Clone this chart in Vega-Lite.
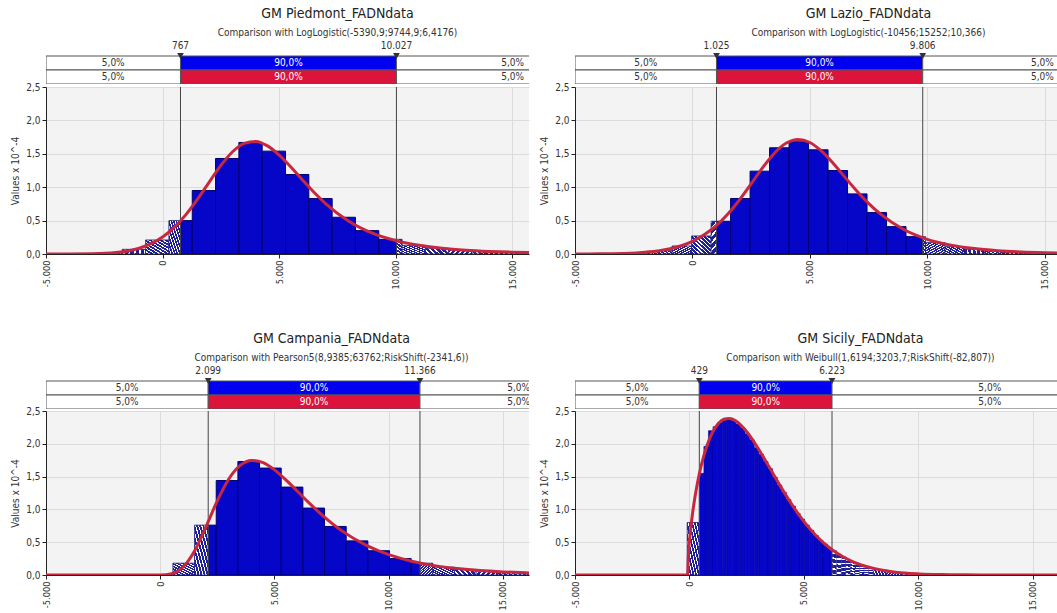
{
  "$schema": "https://vega.github.io/schema/vega-lite/v6.json",
  "padding": {"left": 10, "top": 7, "right": 0, "bottom": 0},
  "background": "white",
  "config": {
    "font": "DejaVu Sans Condensed, DejaVu Sans, sans-serif",
    "view": {"stroke": null},
    "title": {"fontSize": 14, "fontWeight": "normal", "color": "#222222", "subtitleFontSize": 10, "subtitleColor": "#333333", "subtitlePadding": 7, "anchor": "middle", "frame": "group", "offset": 3},
    "axis": {"labelFontSize": 10, "labelColor": "#333333", "titleFontSize": 10, "titleFontWeight": "normal", "titleColor": "#333333", "gridColor": "#dcdcdc", "domainColor": "#222222", "tickColor": "#222222", "tickSize": 4, "labelOverlap": false},
    "axisX": {"labelFontSize": 9.2},
    "axisY": {"minExtent": 24, "maxExtent": 24, "titlePadding": 2, "labelOverlap": false, "labelFlush": false, "labelBound": false}
  },
  "datasets": {
    "hist": [
      {"p":"P1","x0":-4729,"x1":-3729,"h":0.003,"z":"lo"},
      {"p":"P1","x0":-3729,"x1":-2729,"h":0.008,"z":"lo"},
      {"p":"P1","x0":-2729,"x1":-1729,"h":0.02,"z":"lo"},
      {"p":"P1","x0":-1729,"x1":-729,"h":0.07,"z":"lo"},
      {"p":"P1","x0":-729,"x1":271,"h":0.21,"z":"lo"},
      {"p":"P1","x0":271,"x1":767,"h":0.5,"z":"lo"},
      {"p":"P1","x0":767,"x1":1271,"h":0.5,"z":"mid"},
      {"p":"P1","x0":1271,"x1":2271,"h":0.95,"z":"mid"},
      {"p":"P1","x0":2271,"x1":3271,"h":1.43,"z":"mid"},
      {"p":"P1","x0":3271,"x1":4271,"h":1.67,"z":"mid"},
      {"p":"P1","x0":4271,"x1":5271,"h":1.54,"z":"mid"},
      {"p":"P1","x0":5271,"x1":6271,"h":1.19,"z":"mid"},
      {"p":"P1","x0":6271,"x1":7271,"h":0.83,"z":"mid"},
      {"p":"P1","x0":7271,"x1":8271,"h":0.55,"z":"mid"},
      {"p":"P1","x0":8271,"x1":9271,"h":0.35,"z":"mid"},
      {"p":"P1","x0":9271,"x1":10027,"h":0.22,"z":"mid"},
      {"p":"P1","x0":10027,"x1":10271,"h":0.22,"z":"hi"},
      {"p":"P1","x0":10271,"x1":11271,"h":0.13,"z":"hi"},
      {"p":"P1","x0":11271,"x1":12271,"h":0.085,"z":"hi"},
      {"p":"P1","x0":12271,"x1":13271,"h":0.055,"z":"hi"},
      {"p":"P1","x0":13271,"x1":14271,"h":0.038,"z":"hi"},
      {"p":"P1","x0":14271,"x1":15271,"h":0.026,"z":"hi"},
      {"p":"P1","x0":15271,"x1":16271,"h":0.018,"z":"hi"},

      {"p":"P2","x0":-4185,"x1":-3355,"h":0.003,"z":"lo"},
      {"p":"P2","x0":-3355,"x1":-2525,"h":0.008,"z":"lo"},
      {"p":"P2","x0":-2525,"x1":-1695,"h":0.02,"z":"lo"},
      {"p":"P2","x0":-1695,"x1":-865,"h":0.05,"z":"lo"},
      {"p":"P2","x0":-865,"x1":-35,"h":0.12,"z":"lo"},
      {"p":"P2","x0":-35,"x1":795,"h":0.27,"z":"lo"},
      {"p":"P2","x0":795,"x1":1025,"h":0.49,"z":"lo"},
      {"p":"P2","x0":1025,"x1":1625,"h":0.49,"z":"mid"},
      {"p":"P2","x0":1625,"x1":2455,"h":0.83,"z":"mid"},
      {"p":"P2","x0":2455,"x1":3285,"h":1.24,"z":"mid"},
      {"p":"P2","x0":3285,"x1":4115,"h":1.59,"z":"mid"},
      {"p":"P2","x0":4115,"x1":4945,"h":1.68,"z":"mid"},
      {"p":"P2","x0":4945,"x1":5775,"h":1.56,"z":"mid"},
      {"p":"P2","x0":5775,"x1":6605,"h":1.25,"z":"mid"},
      {"p":"P2","x0":6605,"x1":7435,"h":0.9,"z":"mid"},
      {"p":"P2","x0":7435,"x1":8265,"h":0.62,"z":"mid"},
      {"p":"P2","x0":8265,"x1":9095,"h":0.41,"z":"mid"},
      {"p":"P2","x0":9095,"x1":9806,"h":0.26,"z":"mid"},
      {"p":"P2","x0":9806,"x1":9925,"h":0.26,"z":"hi"},
      {"p":"P2","x0":9925,"x1":10755,"h":0.17,"z":"hi"},
      {"p":"P2","x0":10755,"x1":11585,"h":0.11,"z":"hi"},
      {"p":"P2","x0":11585,"x1":12415,"h":0.07,"z":"hi"},
      {"p":"P2","x0":12415,"x1":13245,"h":0.045,"z":"hi"},
      {"p":"P2","x0":13245,"x1":14075,"h":0.03,"z":"hi"},
      {"p":"P2","x0":14075,"x1":14905,"h":0.02,"z":"hi"},
      {"p":"P2","x0":14905,"x1":15735,"h":0.014,"z":"hi"},

      {"p":"P3","x0":554,"x1":1502,"h":0.18,"z":"lo"},
      {"p":"P3","x0":1502,"x1":2099,"h":0.76,"z":"lo"},
      {"p":"P3","x0":2099,"x1":2450,"h":0.76,"z":"mid"},
      {"p":"P3","x0":2450,"x1":3398,"h":1.44,"z":"mid"},
      {"p":"P3","x0":3398,"x1":4346,"h":1.73,"z":"mid"},
      {"p":"P3","x0":4346,"x1":5294,"h":1.63,"z":"mid"},
      {"p":"P3","x0":5294,"x1":6242,"h":1.34,"z":"mid"},
      {"p":"P3","x0":6242,"x1":7190,"h":1.02,"z":"mid"},
      {"p":"P3","x0":7190,"x1":8138,"h":0.74,"z":"mid"},
      {"p":"P3","x0":8138,"x1":9086,"h":0.52,"z":"mid"},
      {"p":"P3","x0":9086,"x1":10034,"h":0.37,"z":"mid"},
      {"p":"P3","x0":10034,"x1":10982,"h":0.25,"z":"mid"},
      {"p":"P3","x0":10982,"x1":11366,"h":0.18,"z":"mid"},
      {"p":"P3","x0":11366,"x1":11930,"h":0.18,"z":"hi"},
      {"p":"P3","x0":11930,"x1":12878,"h":0.12,"z":"hi"},
      {"p":"P3","x0":12878,"x1":13826,"h":0.085,"z":"hi"},
      {"p":"P3","x0":13826,"x1":14774,"h":0.06,"z":"hi"},
      {"p":"P3","x0":14774,"x1":15722,"h":0.042,"z":"hi"},
      {"p":"P3","x0":15722,"x1":16670,"h":0.03,"z":"hi"},

      {"p":"P4","x0":-100,"x1":429,"h":0.8,"z":"lo"},
      {"p":"P4","x0":429,"x1":629,"h":1.55,"z":"mid"},
      {"p":"P4","x0":629,"x1":829,"h":1.96,"z":"mid"},
      {"p":"P4","x0":829,"x1":1029,"h":2.2,"z":"mid"},
      {"p":"P4","x0":1029,"x1":1229,"h":2.26,"z":"mid"},
      {"p":"P4","x0":1229,"x1":1429,"h":2.32,"z":"mid"},
      {"p":"P4","x0":1429,"x1":1629,"h":2.36,"z":"mid"},
      {"p":"P4","x0":1629,"x1":1829,"h":2.37,"z":"mid"},
      {"p":"P4","x0":1829,"x1":2029,"h":2.35,"z":"mid"},
      {"p":"P4","x0":2029,"x1":2229,"h":2.3,"z":"mid"},
      {"p":"P4","x0":2229,"x1":2429,"h":2.24,"z":"mid"},
      {"p":"P4","x0":2429,"x1":2629,"h":2.15,"z":"mid"},
      {"p":"P4","x0":2629,"x1":2829,"h":2.06,"z":"mid"},
      {"p":"P4","x0":2829,"x1":3029,"h":1.94,"z":"mid"},
      {"p":"P4","x0":3029,"x1":3229,"h":1.84,"z":"mid"},
      {"p":"P4","x0":3229,"x1":3429,"h":1.73,"z":"mid"},
      {"p":"P4","x0":3429,"x1":3629,"h":1.62,"z":"mid"},
      {"p":"P4","x0":3629,"x1":3829,"h":1.49,"z":"mid"},
      {"p":"P4","x0":3829,"x1":4029,"h":1.37,"z":"mid"},
      {"p":"P4","x0":4029,"x1":4229,"h":1.26,"z":"mid"},
      {"p":"P4","x0":4229,"x1":4429,"h":1.15,"z":"mid"},
      {"p":"P4","x0":4429,"x1":4629,"h":1.05,"z":"mid"},
      {"p":"P4","x0":4629,"x1":4829,"h":0.94,"z":"mid"},
      {"p":"P4","x0":4829,"x1":5029,"h":0.85,"z":"mid"},
      {"p":"P4","x0":5029,"x1":5229,"h":0.76,"z":"mid"},
      {"p":"P4","x0":5229,"x1":5429,"h":0.68,"z":"mid"},
      {"p":"P4","x0":5429,"x1":5629,"h":0.6,"z":"mid"},
      {"p":"P4","x0":5629,"x1":5829,"h":0.53,"z":"mid"},
      {"p":"P4","x0":5829,"x1":6029,"h":0.47,"z":"mid"},
      {"p":"P4","x0":6029,"x1":6223,"h":0.41,"z":"mid"},
      {"p":"P4","x0":6223,"x1":6429,"h":0.37,"z":"hi"},
      {"p":"P4","x0":6429,"x1":6629,"h":0.32,"z":"hi"},
      {"p":"P4","x0":6629,"x1":6829,"h":0.28,"z":"hi"},
      {"p":"P4","x0":6829,"x1":7029,"h":0.24,"z":"hi"},
      {"p":"P4","x0":7029,"x1":7229,"h":0.205,"z":"hi"},
      {"p":"P4","x0":7229,"x1":7429,"h":0.175,"z":"hi"},
      {"p":"P4","x0":7429,"x1":7629,"h":0.15,"z":"hi"},
      {"p":"P4","x0":7629,"x1":7829,"h":0.128,"z":"hi"},
      {"p":"P4","x0":7829,"x1":8029,"h":0.108,"z":"hi"},
      {"p":"P4","x0":8029,"x1":8629,"h":0.08,"z":"hi"},
      {"p":"P4","x0":8629,"x1":9229,"h":0.05,"z":"hi"},
      {"p":"P4","x0":9229,"x1":10229,"h":0.025,"z":"hi"},
      {"p":"P4","x0":10229,"x1":11229,"h":0.01,"z":"hi"},
      {"p":"P4","x0":11229,"x1":12229,"h":0.004,"z":"hi"}
    ],
    "curve": [
      {"p":"P1","x":-5000,"y":0},{"p":"P1","x":-4000,"y":0.0002},{"p":"P1","x":-3000,"y":0.0033},{"p":"P1","x":-2000,"y":0.0216},{"p":"P1","x":-1000,"y":0.0866},{"p":"P1","x":-500,"y":0.154},{"p":"P1","x":0,"y":0.255},{"p":"P1","x":500,"y":0.399},{"p":"P1","x":1000,"y":0.589},{"p":"P1","x":1500,"y":0.82},{"p":"P1","x":2000,"y":1.077},{"p":"P1","x":2500,"y":1.326},{"p":"P1","x":3000,"y":1.531},{"p":"P1","x":3500,"y":1.657},{"p":"P1","x":4000,"y":1.685},{"p":"P1","x":4500,"y":1.618},{"p":"P1","x":5000,"y":1.48},{"p":"P1","x":5500,"y":1.301},{"p":"P1","x":6000,"y":1.107},{"p":"P1","x":6500,"y":0.92},{"p":"P1","x":7000,"y":0.752},{"p":"P1","x":8000,"y":0.488},{"p":"P1","x":9000,"y":0.312},{"p":"P1","x":10000,"y":0.2},{"p":"P1","x":11000,"y":0.13},{"p":"P1","x":12000,"y":0.0855},{"p":"P1","x":13000,"y":0.0573},{"p":"P1","x":14000,"y":0.0391},{"p":"P1","x":15000,"y":0.0271},{"p":"P1","x":16000,"y":0.0191},

      {"p":"P2","x":-5000,"y":0.0004},{"p":"P2","x":-4000,"y":0.0022},{"p":"P2","x":-3000,"y":0.0083},{"p":"P2","x":-2000,"y":0.027},{"p":"P2","x":-1000,"y":0.076},{"p":"P2","x":0,"y":0.19},{"p":"P2","x":500,"y":0.288},{"p":"P2","x":1000,"y":0.421},{"p":"P2","x":1500,"y":0.596},{"p":"P2","x":2000,"y":0.809},{"p":"P2","x":2500,"y":1.051},{"p":"P2","x":3000,"y":1.298},{"p":"P2","x":3500,"y":1.513},{"p":"P2","x":4000,"y":1.661},{"p":"P2","x":4500,"y":1.715},{"p":"P2","x":5000,"y":1.669},{"p":"P2","x":5500,"y":1.539},{"p":"P2","x":6000,"y":1.354},{"p":"P2","x":6500,"y":1.147},{"p":"P2","x":7000,"y":0.943},{"p":"P2","x":7500,"y":0.758},{"p":"P2","x":8000,"y":0.6},{"p":"P2","x":9000,"y":0.366},{"p":"P2","x":10000,"y":0.22},{"p":"P2","x":11000,"y":0.133},{"p":"P2","x":12000,"y":0.081},{"p":"P2","x":13000,"y":0.05},{"p":"P2","x":14000,"y":0.031},{"p":"P2","x":15000,"y":0.02},{"p":"P2","x":16000,"y":0.013},

      {"p":"P3","x":-5000,"y":0},{"p":"P3","x":-1000,"y":0},{"p":"P3","x":-500,"y":0},{"p":"P3","x":0,"y":0.0012},{"p":"P3","x":500,"y":0.021},{"p":"P3","x":1000,"y":0.122},{"p":"P3","x":1500,"y":0.367},{"p":"P3","x":2000,"y":0.735},{"p":"P3","x":2500,"y":1.133},{"p":"P3","x":3000,"y":1.464},{"p":"P3","x":3500,"y":1.671},{"p":"P3","x":4000,"y":1.747},{"p":"P3","x":4500,"y":1.713},{"p":"P3","x":5000,"y":1.603},{"p":"P3","x":5500,"y":1.449},{"p":"P3","x":6000,"y":1.277},{"p":"P3","x":6500,"y":1.103},{"p":"P3","x":7000,"y":0.939},{"p":"P3","x":7500,"y":0.791},{"p":"P3","x":8000,"y":0.661},{"p":"P3","x":9000,"y":0.455},{"p":"P3","x":10000,"y":0.31},{"p":"P3","x":11000,"y":0.21},{"p":"P3","x":12000,"y":0.143},{"p":"P3","x":13000,"y":0.098},{"p":"P3","x":14000,"y":0.067},{"p":"P3","x":15000,"y":0.047},{"p":"P3","x":16000,"y":0.033},{"p":"P3","x":17000,"y":0.023},

      {"p":"P4","x":-5000,"y":0},{"p":"P4","x":-83,"y":0},{"p":"P4","x":-50,"y":0.296},{"p":"P4","x":0,"y":0.524},{"p":"P4","x":100,"y":0.849},{"p":"P4","x":250,"y":1.212},{"p":"P4","x":350,"y":1.407},{"p":"P4","x":500,"y":1.651},{"p":"P4","x":750,"y":1.96},{"p":"P4","x":1000,"y":2.172},{"p":"P4","x":1250,"y":2.306},{"p":"P4","x":1500,"y":2.374},{"p":"P4","x":1750,"y":2.386},{"p":"P4","x":2000,"y":2.353},{"p":"P4","x":2250,"y":2.283},{"p":"P4","x":2500,"y":2.184},{"p":"P4","x":2750,"y":2.064},{"p":"P4","x":3000,"y":1.929},{"p":"P4","x":3500,"y":1.634},{"p":"P4","x":4000,"y":1.336},{"p":"P4","x":4500,"y":1.058},{"p":"P4","x":5000,"y":0.814},{"p":"P4","x":5500,"y":0.611},{"p":"P4","x":6000,"y":0.446},{"p":"P4","x":6500,"y":0.319},{"p":"P4","x":7000,"y":0.223},{"p":"P4","x":7500,"y":0.152},{"p":"P4","x":8000,"y":0.102},{"p":"P4","x":9000,"y":0.043},{"p":"P4","x":10000,"y":0.017},{"p":"P4","x":11000,"y":0.006},{"p":"P4","x":12000,"y":0.002},{"p":"P4","x":13000,"y":0.0007},{"p":"P4","x":14000,"y":0.0002},{"p":"P4","x":16500,"y":0}
    ],
    "strip": [
      {"p":"P1","row":"input","x0":-5000,"x1":767,"m":-2116.5,"k":"tail","t":"5,0%"},
      {"p":"P1","row":"input","x0":767,"x1":10027,"m":5397,"k":"input","t":"90,0%"},
      {"p":"P1","row":"input","x0":10027,"x1":20000,"m":15013.5,"k":"tail","t":"5,0%"},
      {"p":"P1","row":"fit","x0":-5000,"x1":767,"m":-2116.5,"k":"tail","t":"5,0%"},
      {"p":"P1","row":"fit","x0":767,"x1":10027,"m":5397,"k":"fit","t":"90,0%"},
      {"p":"P1","row":"fit","x0":10027,"x1":20000,"m":15013.5,"k":"tail","t":"5,0%"},
      {"p":"P2","row":"input","x0":-5000,"x1":1025,"m":-1987.5,"k":"tail","t":"5,0%"},
      {"p":"P2","row":"input","x0":1025,"x1":9806,"m":5415.5,"k":"input","t":"90,0%"},
      {"p":"P2","row":"input","x0":9806,"x1":20000,"m":14903,"k":"tail","t":"5,0%"},
      {"p":"P2","row":"fit","x0":-5000,"x1":1025,"m":-1987.5,"k":"tail","t":"5,0%"},
      {"p":"P2","row":"fit","x0":1025,"x1":9806,"m":5415.5,"k":"fit","t":"90,0%"},
      {"p":"P2","row":"fit","x0":9806,"x1":20000,"m":14903,"k":"tail","t":"5,0%"},
      {"p":"P3","row":"input","x0":-5000,"x1":2099,"m":-1450.5,"k":"tail","t":"5,0%"},
      {"p":"P3","row":"input","x0":2099,"x1":11366,"m":6732.5,"k":"input","t":"90,0%"},
      {"p":"P3","row":"input","x0":11366,"x1":20000,"m":15683,"k":"tail","t":"5,0%"},
      {"p":"P3","row":"fit","x0":-5000,"x1":2099,"m":-1450.5,"k":"tail","t":"5,0%"},
      {"p":"P3","row":"fit","x0":2099,"x1":11366,"m":6732.5,"k":"fit","t":"90,0%"},
      {"p":"P3","row":"fit","x0":11366,"x1":20000,"m":15683,"k":"tail","t":"5,0%"},
      {"p":"P4","row":"input","x0":-5000,"x1":429,"m":-2285.5,"k":"tail","t":"5,0%"},
      {"p":"P4","row":"input","x0":429,"x1":6223,"m":3326,"k":"input","t":"90,0%"},
      {"p":"P4","row":"input","x0":6223,"x1":20000,"m":13111.5,"k":"tail","t":"5,0%"},
      {"p":"P4","row":"fit","x0":-5000,"x1":429,"m":-2285.5,"k":"tail","t":"5,0%"},
      {"p":"P4","row":"fit","x0":429,"x1":6223,"m":3326,"k":"fit","t":"90,0%"},
      {"p":"P4","row":"fit","x0":6223,"x1":20000,"m":13111.5,"k":"tail","t":"5,0%"}
    ],
    "pct": [
      {"p":"P1","v":767,"t":"767"},{"p":"P1","v":10027,"t":"10.027"},
      {"p":"P2","v":1025,"t":"1.025"},{"p":"P2","v":9806,"t":"9.806"},
      {"p":"P3","v":2099,"t":"2.099"},{"p":"P3","v":11366,"t":"11.366"},
      {"p":"P4","v":429,"t":"429"},{"p":"P4","v":6223,"t":"6.223"}
    ]
  },
  "vconcat": [
    {
      "hconcat": [
        {
          "bounds": "flush",
          "spacing": 3,
          "vconcat": [
            {
              "width": 483, "height": 42,
              "title": {"text": "GM Piedmont_FADNdata", "subtitle": "Comparison with LogLogistic(-5390,9;9744,9;6,4176)", "dx": 50},
              "layer": [
                {"data": {"name": "strip"}, "transform": [{"filter": "datum.p == 'P1'"}],
                 "mark": {"type": "rect", "stroke": "#555555", "strokeWidth": 1, "clip": true},
                 "encoding": {
                   "x": {"field": "x0", "type": "quantitative", "scale": {"domain": [-5000, 15712], "nice": false, "zero": false}, "axis": null},
                   "x2": {"field": "x1"},
                   "y": {"field": "row", "type": "nominal", "scale": {"domain": ["lab", "input", "fit"], "paddingInner": 0, "paddingOuter": 0}, "axis": null},
                   "fill": {"condition": [{"test": "datum.k == 'input'", "value": "#0000f0"}, {"test": "datum.k == 'fit'", "value": "#dc143c"}], "value": "#ffffff"}}},
                {"data": {"name": "strip"}, "transform": [{"filter": "datum.p == 'P1'"}],
                 "mark": {"type": "text", "fontSize": 10, "clip": true},
                 "encoding": {
                   "x": {"field": "m", "type": "quantitative"},
                   "y": {"field": "row", "type": "nominal"},
                   "text": {"field": "t"},
                   "color": {"condition": {"test": "datum.k == 'tail'", "value": "#333333"}, "value": "#ffffff"}}},
                {"data": {"name": "pct"}, "transform": [{"filter": "datum.p == 'P1'"}],
                 "mark": {"type": "point", "shape": "triangle-down", "filled": true, "size": 45, "color": "#333333", "opacity": 1},
                 "encoding": {"x": {"field": "v", "type": "quantitative"}, "y": {"datum": "input", "bandPosition": 0}}},
                {"data": {"name": "pct"}, "transform": [{"filter": "datum.p == 'P1'"}],
                 "mark": {"type": "text", "fontSize": 10, "color": "#333333", "baseline": "bottom", "dy": -5},
                 "encoding": {"x": {"field": "v", "type": "quantitative"}, "y": {"datum": "input", "bandPosition": 0}, "text": {"field": "t"}}}
              ]
            },
            {
              "width": 483, "height": 167,
              "view": {"fill": "#f3f3f3", "stroke": null},
              "encoding": {
                "x": {"field": "x0", "type": "quantitative", "scale": {"domain": [-5000, 15712], "nice": false, "zero": false},
                      "axis": {"values": [-5000, 0, 5000, 10000, 15000], "labelAngle": -90, "title": null, "labelExpr": "replace(replace(format(datum.value, ','), ',', '.'), '\u2212', '-')"}},
                "y": {"field": "h", "type": "quantitative", "scale": {"domain": [0, 2.5], "nice": false},
                      "axis": {"values": [0, 0.5, 1, 1.5, 2, 2.5], "labelOverlap": false, "title": "Values x 10^-4", "labelExpr": "replace(format(datum.value, '.1f'), '.', ',')"}}
              },
              "layer": [
                {"data": {"name": "hist"}, "transform": [{"filter": "datum.p == 'P1' && datum.z == 'mid'"}],
                 "mark": {"type": "rect", "fill": "#0606c8", "stroke": "#00006e", "strokeWidth": 1, "clip": true},
                 "encoding": {"x2": {"field": "x1"}, "y2": {"datum": 0}}},
                {"data": {"name": "hist"}, "transform": [{"filter": "datum.p == 'P1' && datum.z == 'lo'"}],
                 "mark": {"type": "rect", "stroke": "#1a1a78", "strokeWidth": 0.8, "clip": true, "fill": {"gradient": "linear", "x1": 0, "y1": 1, "x2": 1, "y2": 0, "stops": [{"offset":0,"color":"#1f1f9a"},{"offset":0.0722,"color":"#1f1f9a"},{"offset":0.0722,"color":"#ffffff"},{"offset":0.1111,"color":"#ffffff"},{"offset":0.1111,"color":"#1f1f9a"},{"offset":0.1833,"color":"#1f1f9a"},{"offset":0.1833,"color":"#ffffff"},{"offset":0.2222,"color":"#ffffff"},{"offset":0.2222,"color":"#1f1f9a"},{"offset":0.2944,"color":"#1f1f9a"},{"offset":0.2944,"color":"#ffffff"},{"offset":0.3333,"color":"#ffffff"},{"offset":0.3333,"color":"#1f1f9a"},{"offset":0.4056,"color":"#1f1f9a"},{"offset":0.4056,"color":"#ffffff"},{"offset":0.4444,"color":"#ffffff"},{"offset":0.4444,"color":"#1f1f9a"},{"offset":0.5167,"color":"#1f1f9a"},{"offset":0.5167,"color":"#ffffff"},{"offset":0.5556,"color":"#ffffff"},{"offset":0.5556,"color":"#1f1f9a"},{"offset":0.6278,"color":"#1f1f9a"},{"offset":0.6278,"color":"#ffffff"},{"offset":0.6667,"color":"#ffffff"},{"offset":0.6667,"color":"#1f1f9a"},{"offset":0.7389,"color":"#1f1f9a"},{"offset":0.7389,"color":"#ffffff"},{"offset":0.7778,"color":"#ffffff"},{"offset":0.7778,"color":"#1f1f9a"},{"offset":0.85,"color":"#1f1f9a"},{"offset":0.85,"color":"#ffffff"},{"offset":0.8889,"color":"#ffffff"},{"offset":0.8889,"color":"#1f1f9a"},{"offset":0.9611,"color":"#1f1f9a"},{"offset":0.9611,"color":"#ffffff"},{"offset":1,"color":"#ffffff"}]}},
                 "encoding": {"x2": {"field": "x1"}, "y2": {"datum": 0}}},
                {"data": {"name": "hist"}, "transform": [{"filter": "datum.p == 'P1' && datum.z == 'hi'"}],
                 "mark": {"type": "rect", "stroke": "#1a1a78", "strokeWidth": 0.8, "clip": true, "fill": {"gradient": "linear", "x1": 0, "y1": 0, "x2": 1, "y2": 1, "stops": [{"offset":0,"color":"#1f1f9a"},{"offset":0.0722,"color":"#1f1f9a"},{"offset":0.0722,"color":"#ffffff"},{"offset":0.1111,"color":"#ffffff"},{"offset":0.1111,"color":"#1f1f9a"},{"offset":0.1833,"color":"#1f1f9a"},{"offset":0.1833,"color":"#ffffff"},{"offset":0.2222,"color":"#ffffff"},{"offset":0.2222,"color":"#1f1f9a"},{"offset":0.2944,"color":"#1f1f9a"},{"offset":0.2944,"color":"#ffffff"},{"offset":0.3333,"color":"#ffffff"},{"offset":0.3333,"color":"#1f1f9a"},{"offset":0.4056,"color":"#1f1f9a"},{"offset":0.4056,"color":"#ffffff"},{"offset":0.4444,"color":"#ffffff"},{"offset":0.4444,"color":"#1f1f9a"},{"offset":0.5167,"color":"#1f1f9a"},{"offset":0.5167,"color":"#ffffff"},{"offset":0.5556,"color":"#ffffff"},{"offset":0.5556,"color":"#1f1f9a"},{"offset":0.6278,"color":"#1f1f9a"},{"offset":0.6278,"color":"#ffffff"},{"offset":0.6667,"color":"#ffffff"},{"offset":0.6667,"color":"#1f1f9a"},{"offset":0.7389,"color":"#1f1f9a"},{"offset":0.7389,"color":"#ffffff"},{"offset":0.7778,"color":"#ffffff"},{"offset":0.7778,"color":"#1f1f9a"},{"offset":0.85,"color":"#1f1f9a"},{"offset":0.85,"color":"#ffffff"},{"offset":0.8889,"color":"#ffffff"},{"offset":0.8889,"color":"#1f1f9a"},{"offset":0.9611,"color":"#1f1f9a"},{"offset":0.9611,"color":"#ffffff"},{"offset":1,"color":"#ffffff"}]}},
                 "encoding": {"x2": {"field": "x1"}, "y2": {"datum": 0}}},
                {"data": {"name": "pct"}, "transform": [{"filter": "datum.p == 'P1'"}],
                 "mark": {"type": "rule", "color": "#444444", "strokeWidth": 1},
                 "encoding": {"x": {"field": "v", "type": "quantitative"}, "y": null}},
                {"data": {"name": "curve"}, "transform": [{"filter": "datum.p == 'P1'"}],
                 "mark": {"type": "line", "color": "#c8283f", "strokeWidth": 3, "interpolate": "monotone", "clip": true},
                 "encoding": {"x": {"field": "x", "type": "quantitative"}, "y": {"field": "y", "type": "quantitative"}}}
              ]
            }
          ]
        },
        {
          "bounds": "flush",
          "spacing": 3,
          "vconcat": [
            {
              "width": 483, "height": 42,
              "title": {"text": "GM Lazio_FADNdata", "subtitle": "Comparison with LogLogistic(-10456;15252;10,366)", "dx": 52},
              "layer": [
                {"data": {"name": "strip"}, "transform": [{"filter": "datum.p == 'P2'"}],
                 "mark": {"type": "rect", "stroke": "#555555", "strokeWidth": 1, "clip": true},
                 "encoding": {
                   "x": {"field": "x0", "type": "quantitative", "scale": {"domain": [-5000, 15566], "nice": false, "zero": false}, "axis": null},
                   "x2": {"field": "x1"},
                   "y": {"field": "row", "type": "nominal", "scale": {"domain": ["lab", "input", "fit"], "paddingInner": 0, "paddingOuter": 0}, "axis": null},
                   "fill": {"condition": [{"test": "datum.k == 'input'", "value": "#0000f0"}, {"test": "datum.k == 'fit'", "value": "#dc143c"}], "value": "#ffffff"}}},
                {"data": {"name": "strip"}, "transform": [{"filter": "datum.p == 'P2'"}],
                 "mark": {"type": "text", "fontSize": 10, "clip": true},
                 "encoding": {
                   "x": {"field": "m", "type": "quantitative"},
                   "y": {"field": "row", "type": "nominal"},
                   "text": {"field": "t"},
                   "color": {"condition": {"test": "datum.k == 'tail'", "value": "#333333"}, "value": "#ffffff"}}},
                {"data": {"name": "pct"}, "transform": [{"filter": "datum.p == 'P2'"}],
                 "mark": {"type": "point", "shape": "triangle-down", "filled": true, "size": 45, "color": "#333333", "opacity": 1},
                 "encoding": {"x": {"field": "v", "type": "quantitative"}, "y": {"datum": "input", "bandPosition": 0}}},
                {"data": {"name": "pct"}, "transform": [{"filter": "datum.p == 'P2'"}],
                 "mark": {"type": "text", "fontSize": 10, "color": "#333333", "baseline": "bottom", "dy": -5},
                 "encoding": {"x": {"field": "v", "type": "quantitative"}, "y": {"datum": "input", "bandPosition": 0}, "text": {"field": "t"}}}
              ]
            },
            {
              "width": 483, "height": 167,
              "view": {"fill": "#f3f3f3", "stroke": null},
              "encoding": {
                "x": {"field": "x0", "type": "quantitative", "scale": {"domain": [-5000, 15566], "nice": false, "zero": false},
                      "axis": {"values": [-5000, 0, 5000, 10000, 15000], "labelAngle": -90, "title": null, "labelExpr": "replace(replace(format(datum.value, ','), ',', '.'), '\u2212', '-')"}},
                "y": {"field": "h", "type": "quantitative", "scale": {"domain": [0, 2.5], "nice": false},
                      "axis": {"values": [0, 0.5, 1, 1.5, 2, 2.5], "labelOverlap": false, "title": "Values x 10^-4", "labelExpr": "replace(format(datum.value, '.1f'), '.', ',')"}}
              },
              "layer": [
                {"data": {"name": "hist"}, "transform": [{"filter": "datum.p == 'P2' && datum.z == 'mid'"}],
                 "mark": {"type": "rect", "fill": "#0606c8", "stroke": "#00006e", "strokeWidth": 1, "clip": true},
                 "encoding": {"x2": {"field": "x1"}, "y2": {"datum": 0}}},
                {"data": {"name": "hist"}, "transform": [{"filter": "datum.p == 'P2' && datum.z == 'lo'"}],
                 "mark": {"type": "rect", "stroke": "#1a1a78", "strokeWidth": 0.8, "clip": true, "fill": {"gradient": "linear", "x1": 0, "y1": 1, "x2": 1, "y2": 0, "stops": [{"offset":0,"color":"#1f1f9a"},{"offset":0.0722,"color":"#1f1f9a"},{"offset":0.0722,"color":"#ffffff"},{"offset":0.1111,"color":"#ffffff"},{"offset":0.1111,"color":"#1f1f9a"},{"offset":0.1833,"color":"#1f1f9a"},{"offset":0.1833,"color":"#ffffff"},{"offset":0.2222,"color":"#ffffff"},{"offset":0.2222,"color":"#1f1f9a"},{"offset":0.2944,"color":"#1f1f9a"},{"offset":0.2944,"color":"#ffffff"},{"offset":0.3333,"color":"#ffffff"},{"offset":0.3333,"color":"#1f1f9a"},{"offset":0.4056,"color":"#1f1f9a"},{"offset":0.4056,"color":"#ffffff"},{"offset":0.4444,"color":"#ffffff"},{"offset":0.4444,"color":"#1f1f9a"},{"offset":0.5167,"color":"#1f1f9a"},{"offset":0.5167,"color":"#ffffff"},{"offset":0.5556,"color":"#ffffff"},{"offset":0.5556,"color":"#1f1f9a"},{"offset":0.6278,"color":"#1f1f9a"},{"offset":0.6278,"color":"#ffffff"},{"offset":0.6667,"color":"#ffffff"},{"offset":0.6667,"color":"#1f1f9a"},{"offset":0.7389,"color":"#1f1f9a"},{"offset":0.7389,"color":"#ffffff"},{"offset":0.7778,"color":"#ffffff"},{"offset":0.7778,"color":"#1f1f9a"},{"offset":0.85,"color":"#1f1f9a"},{"offset":0.85,"color":"#ffffff"},{"offset":0.8889,"color":"#ffffff"},{"offset":0.8889,"color":"#1f1f9a"},{"offset":0.9611,"color":"#1f1f9a"},{"offset":0.9611,"color":"#ffffff"},{"offset":1,"color":"#ffffff"}]}},
                 "encoding": {"x2": {"field": "x1"}, "y2": {"datum": 0}}},
                {"data": {"name": "hist"}, "transform": [{"filter": "datum.p == 'P2' && datum.z == 'hi'"}],
                 "mark": {"type": "rect", "stroke": "#1a1a78", "strokeWidth": 0.8, "clip": true, "fill": {"gradient": "linear", "x1": 0, "y1": 0, "x2": 1, "y2": 1, "stops": [{"offset":0,"color":"#1f1f9a"},{"offset":0.0722,"color":"#1f1f9a"},{"offset":0.0722,"color":"#ffffff"},{"offset":0.1111,"color":"#ffffff"},{"offset":0.1111,"color":"#1f1f9a"},{"offset":0.1833,"color":"#1f1f9a"},{"offset":0.1833,"color":"#ffffff"},{"offset":0.2222,"color":"#ffffff"},{"offset":0.2222,"color":"#1f1f9a"},{"offset":0.2944,"color":"#1f1f9a"},{"offset":0.2944,"color":"#ffffff"},{"offset":0.3333,"color":"#ffffff"},{"offset":0.3333,"color":"#1f1f9a"},{"offset":0.4056,"color":"#1f1f9a"},{"offset":0.4056,"color":"#ffffff"},{"offset":0.4444,"color":"#ffffff"},{"offset":0.4444,"color":"#1f1f9a"},{"offset":0.5167,"color":"#1f1f9a"},{"offset":0.5167,"color":"#ffffff"},{"offset":0.5556,"color":"#ffffff"},{"offset":0.5556,"color":"#1f1f9a"},{"offset":0.6278,"color":"#1f1f9a"},{"offset":0.6278,"color":"#ffffff"},{"offset":0.6667,"color":"#ffffff"},{"offset":0.6667,"color":"#1f1f9a"},{"offset":0.7389,"color":"#1f1f9a"},{"offset":0.7389,"color":"#ffffff"},{"offset":0.7778,"color":"#ffffff"},{"offset":0.7778,"color":"#1f1f9a"},{"offset":0.85,"color":"#1f1f9a"},{"offset":0.85,"color":"#ffffff"},{"offset":0.8889,"color":"#ffffff"},{"offset":0.8889,"color":"#1f1f9a"},{"offset":0.9611,"color":"#1f1f9a"},{"offset":0.9611,"color":"#ffffff"},{"offset":1,"color":"#ffffff"}]}},
                 "encoding": {"x2": {"field": "x1"}, "y2": {"datum": 0}}},
                {"data": {"name": "pct"}, "transform": [{"filter": "datum.p == 'P2'"}],
                 "mark": {"type": "rule", "color": "#444444", "strokeWidth": 1},
                 "encoding": {"x": {"field": "v", "type": "quantitative"}, "y": null}},
                {"data": {"name": "curve"}, "transform": [{"filter": "datum.p == 'P2'"}],
                 "mark": {"type": "line", "color": "#c8283f", "strokeWidth": 3, "interpolate": "monotone", "clip": true},
                 "encoding": {"x": {"field": "x", "type": "quantitative"}, "y": {"field": "y", "type": "quantitative"}}}
              ]
            }
          ]
        }
      ],
      "spacing": 10
    },
    {
      "hconcat": [
        {
          "bounds": "flush",
          "spacing": 2,
          "vconcat": [
            {
              "width": 483, "height": 42,
              "title": {"text": "GM Campania_FADNdata", "subtitle": "Comparison with Pearson5(8,9385;63762;RiskShift(-2341,6))", "dx": 44},
              "layer": [
                {"data": {"name": "strip"}, "transform": [{"filter": "datum.p == 'P3'"}],
                 "mark": {"type": "rect", "stroke": "#555555", "strokeWidth": 1, "clip": true},
                 "encoding": {
                   "x": {"field": "x0", "type": "quantitative", "scale": {"domain": [-5000, 16138], "nice": false, "zero": false}, "axis": null},
                   "x2": {"field": "x1"},
                   "y": {"field": "row", "type": "nominal", "scale": {"domain": ["lab", "input", "fit"], "paddingInner": 0, "paddingOuter": 0}, "axis": null},
                   "fill": {"condition": [{"test": "datum.k == 'input'", "value": "#0000f0"}, {"test": "datum.k == 'fit'", "value": "#dc143c"}], "value": "#ffffff"}}},
                {"data": {"name": "strip"}, "transform": [{"filter": "datum.p == 'P3'"}],
                 "mark": {"type": "text", "fontSize": 10, "clip": true},
                 "encoding": {
                   "x": {"field": "m", "type": "quantitative"},
                   "y": {"field": "row", "type": "nominal"},
                   "text": {"field": "t"},
                   "color": {"condition": {"test": "datum.k == 'tail'", "value": "#333333"}, "value": "#ffffff"}}},
                {"data": {"name": "pct"}, "transform": [{"filter": "datum.p == 'P3'"}],
                 "mark": {"type": "point", "shape": "triangle-down", "filled": true, "size": 45, "color": "#333333", "opacity": 1},
                 "encoding": {"x": {"field": "v", "type": "quantitative"}, "y": {"datum": "input", "bandPosition": 0}}},
                {"data": {"name": "pct"}, "transform": [{"filter": "datum.p == 'P3'"}],
                 "mark": {"type": "text", "fontSize": 10, "color": "#333333", "baseline": "bottom", "dy": -5},
                 "encoding": {"x": {"field": "v", "type": "quantitative"}, "y": {"datum": "input", "bandPosition": 0}, "text": {"field": "t"}}}
              ]
            },
            {
              "width": 483, "height": 164,
              "view": {"fill": "#f3f3f3", "stroke": null},
              "encoding": {
                "x": {"field": "x0", "type": "quantitative", "scale": {"domain": [-5000, 16138], "nice": false, "zero": false},
                      "axis": {"values": [-5000, 0, 5000, 10000, 15000], "labelAngle": -90, "title": null, "labelExpr": "replace(replace(format(datum.value, ','), ',', '.'), '\u2212', '-')"}},
                "y": {"field": "h", "type": "quantitative", "scale": {"domain": [0, 2.5], "nice": false},
                      "axis": {"values": [0, 0.5, 1, 1.5, 2, 2.5], "labelOverlap": false, "title": "Values x 10^-4", "labelExpr": "replace(format(datum.value, '.1f'), '.', ',')"}}
              },
              "layer": [
                {"data": {"name": "hist"}, "transform": [{"filter": "datum.p == 'P3' && datum.z == 'mid'"}],
                 "mark": {"type": "rect", "fill": "#0606c8", "stroke": "#00006e", "strokeWidth": 1, "clip": true},
                 "encoding": {"x2": {"field": "x1"}, "y2": {"datum": 0}}},
                {"data": {"name": "hist"}, "transform": [{"filter": "datum.p == 'P3' && datum.z == 'lo'"}],
                 "mark": {"type": "rect", "stroke": "#1a1a78", "strokeWidth": 0.8, "clip": true, "fill": {"gradient": "linear", "x1": 0, "y1": 1, "x2": 1, "y2": 0, "stops": [{"offset":0,"color":"#1f1f9a"},{"offset":0.0722,"color":"#1f1f9a"},{"offset":0.0722,"color":"#ffffff"},{"offset":0.1111,"color":"#ffffff"},{"offset":0.1111,"color":"#1f1f9a"},{"offset":0.1833,"color":"#1f1f9a"},{"offset":0.1833,"color":"#ffffff"},{"offset":0.2222,"color":"#ffffff"},{"offset":0.2222,"color":"#1f1f9a"},{"offset":0.2944,"color":"#1f1f9a"},{"offset":0.2944,"color":"#ffffff"},{"offset":0.3333,"color":"#ffffff"},{"offset":0.3333,"color":"#1f1f9a"},{"offset":0.4056,"color":"#1f1f9a"},{"offset":0.4056,"color":"#ffffff"},{"offset":0.4444,"color":"#ffffff"},{"offset":0.4444,"color":"#1f1f9a"},{"offset":0.5167,"color":"#1f1f9a"},{"offset":0.5167,"color":"#ffffff"},{"offset":0.5556,"color":"#ffffff"},{"offset":0.5556,"color":"#1f1f9a"},{"offset":0.6278,"color":"#1f1f9a"},{"offset":0.6278,"color":"#ffffff"},{"offset":0.6667,"color":"#ffffff"},{"offset":0.6667,"color":"#1f1f9a"},{"offset":0.7389,"color":"#1f1f9a"},{"offset":0.7389,"color":"#ffffff"},{"offset":0.7778,"color":"#ffffff"},{"offset":0.7778,"color":"#1f1f9a"},{"offset":0.85,"color":"#1f1f9a"},{"offset":0.85,"color":"#ffffff"},{"offset":0.8889,"color":"#ffffff"},{"offset":0.8889,"color":"#1f1f9a"},{"offset":0.9611,"color":"#1f1f9a"},{"offset":0.9611,"color":"#ffffff"},{"offset":1,"color":"#ffffff"}]}},
                 "encoding": {"x2": {"field": "x1"}, "y2": {"datum": 0}}},
                {"data": {"name": "hist"}, "transform": [{"filter": "datum.p == 'P3' && datum.z == 'hi'"}],
                 "mark": {"type": "rect", "stroke": "#1a1a78", "strokeWidth": 0.8, "clip": true, "fill": {"gradient": "linear", "x1": 0, "y1": 0, "x2": 1, "y2": 1, "stops": [{"offset":0,"color":"#1f1f9a"},{"offset":0.0722,"color":"#1f1f9a"},{"offset":0.0722,"color":"#ffffff"},{"offset":0.1111,"color":"#ffffff"},{"offset":0.1111,"color":"#1f1f9a"},{"offset":0.1833,"color":"#1f1f9a"},{"offset":0.1833,"color":"#ffffff"},{"offset":0.2222,"color":"#ffffff"},{"offset":0.2222,"color":"#1f1f9a"},{"offset":0.2944,"color":"#1f1f9a"},{"offset":0.2944,"color":"#ffffff"},{"offset":0.3333,"color":"#ffffff"},{"offset":0.3333,"color":"#1f1f9a"},{"offset":0.4056,"color":"#1f1f9a"},{"offset":0.4056,"color":"#ffffff"},{"offset":0.4444,"color":"#ffffff"},{"offset":0.4444,"color":"#1f1f9a"},{"offset":0.5167,"color":"#1f1f9a"},{"offset":0.5167,"color":"#ffffff"},{"offset":0.5556,"color":"#ffffff"},{"offset":0.5556,"color":"#1f1f9a"},{"offset":0.6278,"color":"#1f1f9a"},{"offset":0.6278,"color":"#ffffff"},{"offset":0.6667,"color":"#ffffff"},{"offset":0.6667,"color":"#1f1f9a"},{"offset":0.7389,"color":"#1f1f9a"},{"offset":0.7389,"color":"#ffffff"},{"offset":0.7778,"color":"#ffffff"},{"offset":0.7778,"color":"#1f1f9a"},{"offset":0.85,"color":"#1f1f9a"},{"offset":0.85,"color":"#ffffff"},{"offset":0.8889,"color":"#ffffff"},{"offset":0.8889,"color":"#1f1f9a"},{"offset":0.9611,"color":"#1f1f9a"},{"offset":0.9611,"color":"#ffffff"},{"offset":1,"color":"#ffffff"}]}},
                 "encoding": {"x2": {"field": "x1"}, "y2": {"datum": 0}}},
                {"data": {"name": "pct"}, "transform": [{"filter": "datum.p == 'P3'"}],
                 "mark": {"type": "rule", "color": "#444444", "strokeWidth": 1},
                 "encoding": {"x": {"field": "v", "type": "quantitative"}, "y": null}},
                {"data": {"name": "curve"}, "transform": [{"filter": "datum.p == 'P3'"}],
                 "mark": {"type": "line", "color": "#c8283f", "strokeWidth": 3, "interpolate": "monotone", "clip": true},
                 "encoding": {"x": {"field": "x", "type": "quantitative"}, "y": {"field": "y", "type": "quantitative"}}}
              ]
            }
          ]
        },
        {
          "bounds": "flush",
          "spacing": 2,
          "vconcat": [
            {
              "width": 483, "height": 42,
              "title": {"text": "GM Sicily_FADNdata", "subtitle": "Comparison with Weibull(1,6194;3203,7;RiskShift(-82,807))", "dx": 44},
              "layer": [
                {"data": {"name": "strip"}, "transform": [{"filter": "datum.p == 'P4'"}],
                 "mark": {"type": "rect", "stroke": "#555555", "strokeWidth": 1, "clip": true},
                 "encoding": {
                   "x": {"field": "x0", "type": "quantitative", "scale": {"domain": [-5000, 16092], "nice": false, "zero": false}, "axis": null},
                   "x2": {"field": "x1"},
                   "y": {"field": "row", "type": "nominal", "scale": {"domain": ["lab", "input", "fit"], "paddingInner": 0, "paddingOuter": 0}, "axis": null},
                   "fill": {"condition": [{"test": "datum.k == 'input'", "value": "#0000f0"}, {"test": "datum.k == 'fit'", "value": "#dc143c"}], "value": "#ffffff"}}},
                {"data": {"name": "strip"}, "transform": [{"filter": "datum.p == 'P4'"}],
                 "mark": {"type": "text", "fontSize": 10, "clip": true},
                 "encoding": {
                   "x": {"field": "m", "type": "quantitative"},
                   "y": {"field": "row", "type": "nominal"},
                   "text": {"field": "t"},
                   "color": {"condition": {"test": "datum.k == 'tail'", "value": "#333333"}, "value": "#ffffff"}}},
                {"data": {"name": "pct"}, "transform": [{"filter": "datum.p == 'P4'"}],
                 "mark": {"type": "point", "shape": "triangle-down", "filled": true, "size": 45, "color": "#333333", "opacity": 1},
                 "encoding": {"x": {"field": "v", "type": "quantitative"}, "y": {"datum": "input", "bandPosition": 0}}},
                {"data": {"name": "pct"}, "transform": [{"filter": "datum.p == 'P4'"}],
                 "mark": {"type": "text", "fontSize": 10, "color": "#333333", "baseline": "bottom", "dy": -5},
                 "encoding": {"x": {"field": "v", "type": "quantitative"}, "y": {"datum": "input", "bandPosition": 0}, "text": {"field": "t"}}}
              ]
            },
            {
              "width": 483, "height": 164,
              "view": {"fill": "#f3f3f3", "stroke": null},
              "encoding": {
                "x": {"field": "x0", "type": "quantitative", "scale": {"domain": [-5000, 16092], "nice": false, "zero": false},
                      "axis": {"values": [-5000, 0, 5000, 10000, 15000], "labelAngle": -90, "title": null, "labelExpr": "replace(replace(format(datum.value, ','), ',', '.'), '\u2212', '-')"}},
                "y": {"field": "h", "type": "quantitative", "scale": {"domain": [0, 2.5], "nice": false},
                      "axis": {"values": [0, 0.5, 1, 1.5, 2, 2.5], "labelOverlap": false, "title": "Values x 10^-4", "labelExpr": "replace(format(datum.value, '.1f'), '.', ',')"}}
              },
              "layer": [
                {"data": {"name": "hist"}, "transform": [{"filter": "datum.p == 'P4' && datum.z == 'mid'"}],
                 "mark": {"type": "rect", "fill": "#0606c8", "stroke": "#0000a0", "strokeWidth": 0.6, "clip": true},
                 "encoding": {"x2": {"field": "x1"}, "y2": {"datum": 0}}},
                {"data": {"name": "hist"}, "transform": [{"filter": "datum.p == 'P4' && datum.z == 'lo'"}],
                 "mark": {"type": "rect", "stroke": "#1a1a78", "strokeWidth": 0.8, "clip": true, "fill": {"gradient": "linear", "x1": 0, "y1": 1, "x2": 1, "y2": 0, "stops": [{"offset":0,"color":"#1f1f9a"},{"offset":0.0722,"color":"#1f1f9a"},{"offset":0.0722,"color":"#ffffff"},{"offset":0.1111,"color":"#ffffff"},{"offset":0.1111,"color":"#1f1f9a"},{"offset":0.1833,"color":"#1f1f9a"},{"offset":0.1833,"color":"#ffffff"},{"offset":0.2222,"color":"#ffffff"},{"offset":0.2222,"color":"#1f1f9a"},{"offset":0.2944,"color":"#1f1f9a"},{"offset":0.2944,"color":"#ffffff"},{"offset":0.3333,"color":"#ffffff"},{"offset":0.3333,"color":"#1f1f9a"},{"offset":0.4056,"color":"#1f1f9a"},{"offset":0.4056,"color":"#ffffff"},{"offset":0.4444,"color":"#ffffff"},{"offset":0.4444,"color":"#1f1f9a"},{"offset":0.5167,"color":"#1f1f9a"},{"offset":0.5167,"color":"#ffffff"},{"offset":0.5556,"color":"#ffffff"},{"offset":0.5556,"color":"#1f1f9a"},{"offset":0.6278,"color":"#1f1f9a"},{"offset":0.6278,"color":"#ffffff"},{"offset":0.6667,"color":"#ffffff"},{"offset":0.6667,"color":"#1f1f9a"},{"offset":0.7389,"color":"#1f1f9a"},{"offset":0.7389,"color":"#ffffff"},{"offset":0.7778,"color":"#ffffff"},{"offset":0.7778,"color":"#1f1f9a"},{"offset":0.85,"color":"#1f1f9a"},{"offset":0.85,"color":"#ffffff"},{"offset":0.8889,"color":"#ffffff"},{"offset":0.8889,"color":"#1f1f9a"},{"offset":0.9611,"color":"#1f1f9a"},{"offset":0.9611,"color":"#ffffff"},{"offset":1,"color":"#ffffff"}]}},
                 "encoding": {"x2": {"field": "x1"}, "y2": {"datum": 0}}},
                {"data": {"name": "hist"}, "transform": [{"filter": "datum.p == 'P4' && datum.z == 'hi'"}],
                 "mark": {"type": "rect", "stroke": "#1a1a78", "strokeWidth": 0.3, "clip": true, "fill": {"gradient": "linear", "x1": 0, "y1": 0, "x2": 1, "y2": 1, "stops": [{"offset":0,"color":"#1f1f9a"},{"offset":0.0722,"color":"#1f1f9a"},{"offset":0.0722,"color":"#ffffff"},{"offset":0.1111,"color":"#ffffff"},{"offset":0.1111,"color":"#1f1f9a"},{"offset":0.1833,"color":"#1f1f9a"},{"offset":0.1833,"color":"#ffffff"},{"offset":0.2222,"color":"#ffffff"},{"offset":0.2222,"color":"#1f1f9a"},{"offset":0.2944,"color":"#1f1f9a"},{"offset":0.2944,"color":"#ffffff"},{"offset":0.3333,"color":"#ffffff"},{"offset":0.3333,"color":"#1f1f9a"},{"offset":0.4056,"color":"#1f1f9a"},{"offset":0.4056,"color":"#ffffff"},{"offset":0.4444,"color":"#ffffff"},{"offset":0.4444,"color":"#1f1f9a"},{"offset":0.5167,"color":"#1f1f9a"},{"offset":0.5167,"color":"#ffffff"},{"offset":0.5556,"color":"#ffffff"},{"offset":0.5556,"color":"#1f1f9a"},{"offset":0.6278,"color":"#1f1f9a"},{"offset":0.6278,"color":"#ffffff"},{"offset":0.6667,"color":"#ffffff"},{"offset":0.6667,"color":"#1f1f9a"},{"offset":0.7389,"color":"#1f1f9a"},{"offset":0.7389,"color":"#ffffff"},{"offset":0.7778,"color":"#ffffff"},{"offset":0.7778,"color":"#1f1f9a"},{"offset":0.85,"color":"#1f1f9a"},{"offset":0.85,"color":"#ffffff"},{"offset":0.8889,"color":"#ffffff"},{"offset":0.8889,"color":"#1f1f9a"},{"offset":0.9611,"color":"#1f1f9a"},{"offset":0.9611,"color":"#ffffff"},{"offset":1,"color":"#ffffff"}]}},
                 "encoding": {"x2": {"field": "x1"}, "y2": {"datum": 0}}},
                {"data": {"name": "pct"}, "transform": [{"filter": "datum.p == 'P4'"}],
                 "mark": {"type": "rule", "color": "#444444", "strokeWidth": 1},
                 "encoding": {"x": {"field": "v", "type": "quantitative"}, "y": null}},
                {"data": {"name": "curve"}, "transform": [{"filter": "datum.p == 'P4'"}],
                 "mark": {"type": "line", "color": "#c8283f", "strokeWidth": 3, "interpolate": "monotone", "clip": true},
                 "encoding": {"x": {"field": "x", "type": "quantitative"}, "y": {"field": "y", "type": "quantitative"}}}
              ]
            }
          ]
        }
      ],
      "spacing": 10
    }
  ],
  "spacing": 43
}
